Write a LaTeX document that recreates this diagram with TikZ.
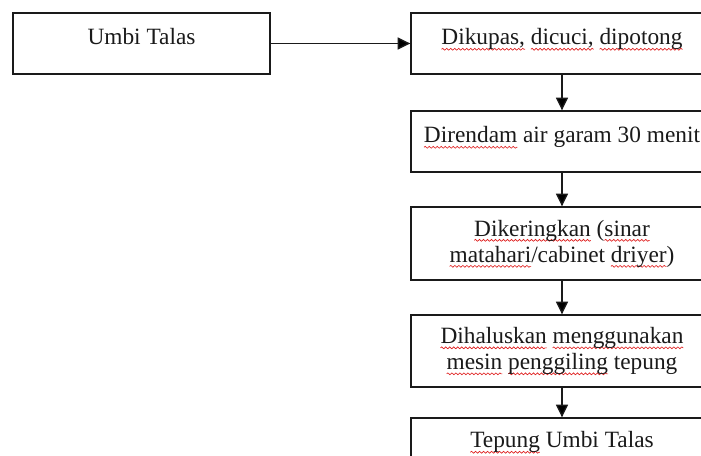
\documentclass[tikz,border=0pt]{standalone}
\usepackage{fontspec}
\setmainfont{Liberation Serif}
\usetikzlibrary{arrows.meta,decorations.pathmorphing}
\newcommand{\Px}{0.75pt}
\newcommand{\Edge}{1pt}
\definecolor{ink}{HTML}{1A1A1A}
\definecolor{squiggle}{HTML}{E02020}
% red wavy mark under words the spell checker did not know
\newlength{\TypoW}
\newcommand{\typo}[1]{\settowidth{\TypoW}{#1}%
  \tikz[overlay]\draw[squiggle,line width=0.5pt,decorate,
    decoration={snake,amplitude=0.7pt,segment length=3pt}] (0pt,-3.2pt) -- (\TypoW,-3.2pt);%
  #1}

\begin{document}
\begin{tikzpicture}[x=\Px,y=-\Px,
  box/.style={draw=ink,line width=\Edge,fill=white,align=center,text=ink,
    font=\fontsize{17.5}{19.5}\selectfont,inner sep=0pt},
  oneline/.style={box,text height=24pt,text depth=21.75pt},
  twoline/.style={box,minimum height=#1},
  wide/.style={minimum width=226.5pt},
  flow/.style={draw=ink,line width=\Edge,-{Triangle[width=9pt,length=9.5pt]}}]

  % ---- frame --------------------------------------------------------------
  \path[use as bounding box] (0,0) rectangle (701,456);
  \clip (0,0) rectangle (701,456);

  % ---- raw material -------------------------------------------------------
  \node[oneline,minimum width=192.75pt] (umbi) at (141.5,43.5) {Umbi Talas};

  % ---- steps, one under the other -----------------------------------------
  \node[oneline,wide] (kupas) at (562,43.5) {\typo{Dikupas,} \typo{dicuci,} \typo{dipotong}};
  \node[oneline,wide] (rendam) at (562,141.5) {\typo{Direndam} air garam 30 menit};
  \node[twoline=54.75pt,wide] (kering) at (562,243.5)
    {\typo{Dikeringkan} (\typo{sinar}\\\typo{matahari}/cabinet \typo{driyer})};
  \node[twoline=54pt,wide] (halus) at (562,351)
    {\typo{Dihaluskan} \typo{menggunakan}\\\typo{mesin} \typo{penggiling} tepung};
  % Runs off the bottom of the page.
  \node[oneline,wide,text height=22.5pt,text depth=24pt] (tepung) at (562,449)
    {\typo{Tepung} Umbi Talas};

  % ---- arrows -------------------------------------------------------------
  \draw[flow] (umbi.east) -- (kupas.west);
  \draw[flow] (kupas.south) -- (rendam.north);
  \draw[flow] (rendam.south) -- (kering.north);
  \draw[flow] (kering.south) -- (halus.north);
  \draw[flow] (halus.south) -- (tepung.north);

\end{tikzpicture}
\end{document}
